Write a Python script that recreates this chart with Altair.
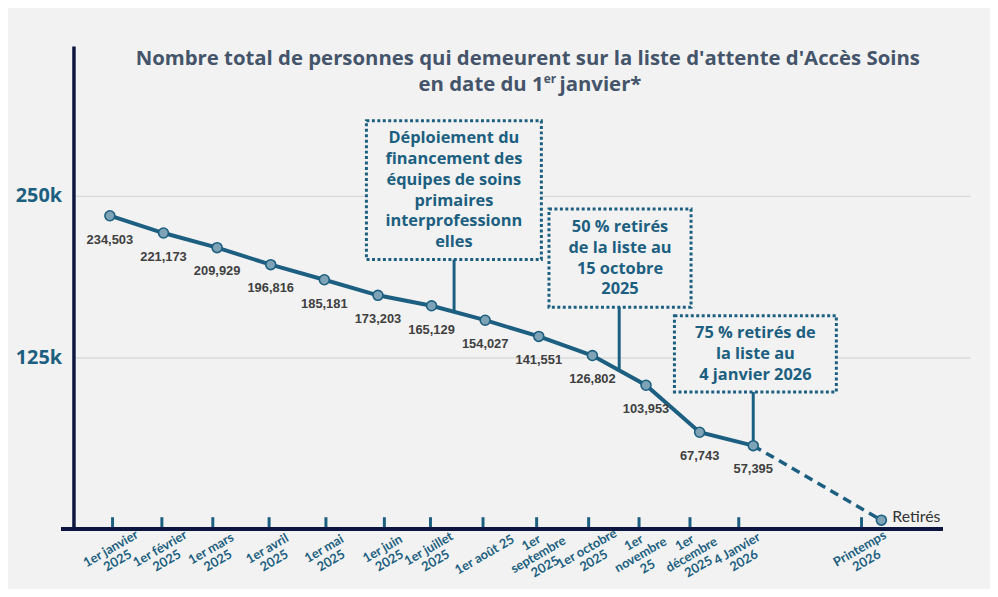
import altair as alt
import pandas as pd

# ---------------- data ----------------
point_idx = [0, 1, 2, 3, 4, 5, 6, 7, 8, 9, 10, 11, 12, 14.39]
point_val = [234503, 221173, 209929, 196816, 185181, 173203, 165129, 154027,
             141551, 126802, 103953, 67743, 57395, 0]
point_lbl = ["234,503", "221,173", "209,929", "196,816", "185,181", "173,203", "165,129",
             "154,027", "141,551", "126,802", "103,953", "67,743", "57,395", ""]

tick_pos = [0.05, 0.97, 1.92, 2.97, 4.03, 5.12, 5.98, 6.96, 7.96, 8.93, 9.87, 10.82, 11.73, 14.02]
tick_lbl = ["1er janvier\n2025", "1er février\n2025", "1er mars\n2025", "1er avril\n2025",
            "1er mai\n2025", "1er juin\n2025", "1er juillet\n2025", "1er août 25",
            "1er\nseptembre\n2025", "1er octobre\n2025", "1er\nnovembre\n25",
            "1er\ndécembre\n2025", "4 Janvier\n2026", "Printemps\n2026"]

ann_text = ["Déploiement du\nfinancement des\néquipes de soins\nprimaires\ninterprofessionn\nelles",
            "50 % retirés\nde la liste au\n15 octobre\n2025",
            "75 % retirés de\nla liste au\n4 janvier 2026"]
ann_x = [6.42, 9.5, 12]           # where the leader meets the line
ann_anchor = [160500, 115400, 57395]
box_x1 = [4.785, 8.19, 10.53]
box_x2 = [8.048, 10.84, 13.55]
box_top = [307600, 239600, 157400]
box_bottom = [200700, 164000, 98800]

y_ticks = [125000, 250000]

# ---------------- frames ----------------
TEAL = "#1c5f80"
NAVY = "#0d1640"
W, H = 904, 487
Y_DOMAIN = [-6900, 365200]
PPU = H / (Y_DOMAIN[1] - Y_DOMAIN[0])     # pixels per unit on the y scale

pts = pd.DataFrame({"i": point_idx, "v": point_val, "lbl": point_lbl})
solid = pts.iloc[:13]
dashed = pts.iloc[12:]
retires = pd.DataFrame({"i": [point_idx[-1]], "v": [point_val[-1]], "t": ["Retirés"]})
ticks = pd.DataFrame({"i": tick_pos, "lbl": tick_lbl})
ticks["n"] = ticks["lbl"].str.count("\n") + 1
ann = pd.DataFrame({
    "t": ann_text, "ax": ann_x, "anchor": ann_anchor,
    "x1": box_x1, "x2": box_x2, "top": box_top, "bottom": box_bottom,
})
ann["cx"] = (ann["x1"] + ann["x2"]) / 2
ann["cy"] = (ann["top"] + ann["bottom"]) / 2

ANN_LH = 21
rows = []
for _, r in ann.iterrows():
    lines = r["t"].split("\n")
    n = len(lines)
    for k, s in enumerate(lines):
        rows.append({"cx": r["cx"], "y": r["cy"] + ((n - 1) / 2 - k) * ANN_LH / PPU, "s": s})
ann_lines = pd.DataFrame(rows)

xs = alt.Scale(domain=[-0.679, 16.046], nice=False, zero=False)
ys = alt.Scale(domain=Y_DOMAIN, nice=False, zero=False)

yaxis = alt.Axis(values=y_ticks, format="~s", title=None, grid=True, gridColor="#d0d0d0",
                 gridWidth=1, ticks=False, domain=True, domainColor=NAVY, domainWidth=3.5,
                 labelFont="Open Sans", labelFontWeight="bold", labelFontSize=20,
                 labelColor=TEAL, labelPadding=12)


def X(f):
    return alt.X(f, type="quantitative", scale=xs, axis=None)


def Y(f):
    return alt.Y(f, type="quantitative", scale=ys, axis=yaxis)


base_solid = alt.Chart(solid).mark_line(color=TEAL, strokeWidth=4).encode(
    x=X("i"), y=Y("v"))

boxes = alt.Chart(ann).mark_rect(fill="#f2f2f2", stroke=TEAL, strokeDash=[3, 2.5],
                                 strokeWidth=3).encode(
    x=X("x1"), x2="x2", y=Y("top"), y2="bottom")

leaders = alt.Chart(ann).mark_rule(color=TEAL, strokeWidth=3).encode(
    x=X("ax"), y=Y("bottom"), y2="anchor")

line_dash = alt.Chart(dashed).mark_line(color=TEAL, strokeWidth=3.5, strokeDash=[9, 6]).encode(
    x=X("i"), y=Y("v"))

points = alt.Chart(pts).mark_point(filled=True, fill="#7fa3b6", stroke=TEAL, strokeWidth=1.6,
                                   size=100, opacity=1).encode(x=X("i"), y=Y("v"))

labels = alt.Chart(pts).mark_text(dy=24, font="Liberation Sans", fontWeight="bold",
                                  fontSize=13, color="#404040").encode(
    x=X("i"), y=Y("v"), text="lbl:N")

tick_rules = alt.Chart(ticks).mark_rule(color=TEAL, strokeWidth=3).encode(
    x=X("i"), y=alt.value(H - 12), y2=alt.value(H))

axis_line = alt.Chart(ticks).mark_rule(color=NAVY, strokeWidth=4).encode(
    x=alt.value(-12), x2=alt.value(876), y=alt.value(H))

TICK_LH = 14
tick_layers = []
for n in (1, 2, 3):
    tick_layers.append(
        alt.Chart(ticks[ticks["n"] == n]).mark_text(
            angle=330, align="center", baseline="middle", lineBreak="\n", lineHeight=TICK_LH,
            font="Lato", fontWeight="bold", fontSize=13, color=TEAL,
            dx=2, dy=-(n - 1) / 2 * TICK_LH).encode(
            x=X("i"), y=alt.value(H + 27), text="lbl:N")
    )

retires_text = alt.Chart(retires).mark_text(
    align="left", baseline="middle", dx=11, dy=-3, font="Lato", fontSize=16,
    color="#333333").encode(x=X("i"), y=Y("v"), text="t:N")

ann_txt = alt.Chart(ann_lines).mark_text(
    align="center", baseline="middle", font="Open Sans", fontWeight="bold",
    fontSize=16.5, color=TEAL).encode(x=X("cx"), y=Y("y"), text="s:N")

TF = "Open Sans"
TC = "#44546a"
title_df = pd.DataFrame({"t": ["Nombre total de personnes qui demeurent sur la liste d'attente d'Accès Soins"]})
title1 = alt.Chart(title_df).mark_text(
    align="center", baseline="middle", font=TF, fontWeight="bold", fontSize=20.5,
    color=TC).encode(x=alt.value(458), y=alt.value(13), text="t:N")
t2a = alt.Chart(pd.DataFrame({"t": ["en date du 1"]})).mark_text(
    align="right", baseline="middle", font=TF, fontWeight="bold", fontSize=20.5,
    color=TC).encode(x=alt.value(474), y=alt.value(39), text="t:N")
t2b = alt.Chart(pd.DataFrame({"t": ["er"]})).mark_text(
    align="left", baseline="middle", font=TF, fontWeight="bold", fontSize=12,
    color=TC).encode(x=alt.value(474), y=alt.value(33), text="t:N")
t2c = alt.Chart(pd.DataFrame({"t": [" janvier*"]})).mark_text(
    align="left", baseline="middle", font=TF, fontWeight="bold", fontSize=20.5,
    color=TC).encode(x=alt.value(490), y=alt.value(39), text="t:N")

chart = alt.layer(
    base_solid, boxes, leaders, line_dash, points, labels, tick_rules, axis_line,
    *tick_layers, retires_text, ann_txt, title1, t2a, t2b, t2c
).properties(
    width=W, height=H, background="#f2f2f2",
    autosize=alt.AutoSizeParams(type="none"),
    padding={"left": 66, "top": 36, "right": 20, "bottom": 58},
).configure_view(stroke=None)

chart.save("out.html", embed_options={"renderer": "svg", "actions": False})
